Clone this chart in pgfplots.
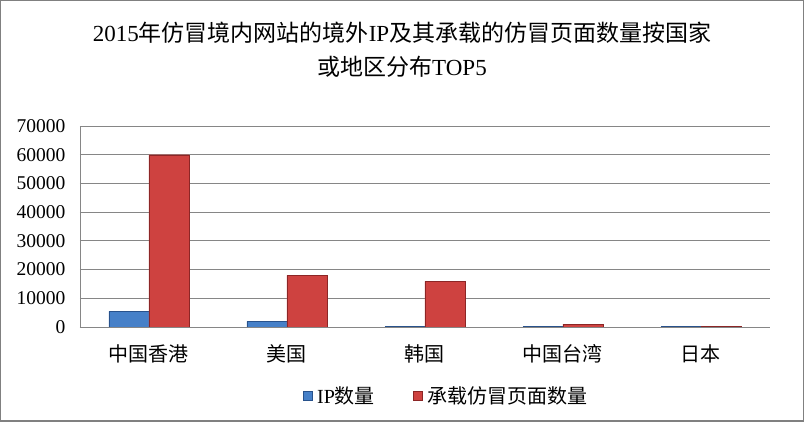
\documentclass[border=0pt]{standalone}
\usepackage{pgfplots}
\pgfplotsset{compat=1.18}
\usepackage{fontspec}
\setmainfont{Liberation Serif}
\newfontfamily\cjk{Noto Sans CJK SC}

\definecolor{ipblue}{RGB}{70,128,200}
\definecolor{ipblueedge}{RGB}{40,82,140}
\definecolor{pgred}{RGB}{206,66,64}
\definecolor{pgrededge}{RGB}{140,38,38}
\definecolor{gridgray}{RGB}{134,134,134}
\definecolor{framegray}{RGB}{128,128,128}

\begin{document}
\begin{tikzpicture}
\useasboundingbox (-80pt,-95pt) rectangle (724pt,327pt);
\draw[framegray, line width=1.5pt] (-79.25pt,-94.25pt) rectangle (723.25pt,326.25pt);
\begin{axis}[
    width=690pt, height=201pt, scale only axis,
    at={(0pt,0pt)}, anchor=south west,
    ybar=0pt, bar width=40pt,
    xmin=-0.5, xmax=4.5,
    ymin=0, ymax=70000,
    xtick=data,
    xticklabels={{\cjk 中国香港},{\cjk 美国},{\cjk 韩国},{\cjk 中国台湾},{\cjk 日本}},
    ytick={0,10000,...,70000},
    scaled y ticks=false,
    /pgf/number format/1000 sep={},
    /pgf/number format/assume math mode=true,
    ymajorgrids,
    grid style={gridgray, line width=0.8pt},
    axis x line*=bottom, axis y line*=left,
    axis line style={gridgray, line width=0.8pt, -},
    major tick length=0pt,
    yticklabel style={font=\fontsize{19.5}{19.5}\selectfont, xshift=-11pt},
    xticklabel style={font=\fontsize{20}{20}\selectfont, yshift=-14pt},
    legend columns=2,
    legend style={at={(0.5,0)}, anchor=north, yshift=-55pt, xshift=21pt, draw=none,
        font=\fontsize{20}{20}\selectfont,
        /tikz/every even column/.append style={column sep=36pt}},
    legend image code/.code={\draw[#1,/tikz/.cd] (0pt,-4.5pt) rectangle (9pt,4.5pt); \path (12pt,0pt);},
]
\addplot[fill=ipblue, draw=ipblueedge] coordinates {
    (0,5400) (1,1950) (2,150) (3,150) (4,120)
};
\addplot[fill=pgred, draw=pgrededge] coordinates {
    (0,60000) (1,17950) (2,15900) (3,1000) (4,200)
};
\legend{IP{\cjk 数量},{\cjk 承载仿冒页面数量}}
\end{axis}
\node[font=\fontsize{23}{34}\selectfont, align=center] at (322pt,277pt)
    {2015{\cjk 年仿冒境内网站的境外}IP{\cjk 及其承载的仿冒页面数量按国家}\\{\cjk 或地区分布}TOP5};
\end{tikzpicture}
\end{document}
